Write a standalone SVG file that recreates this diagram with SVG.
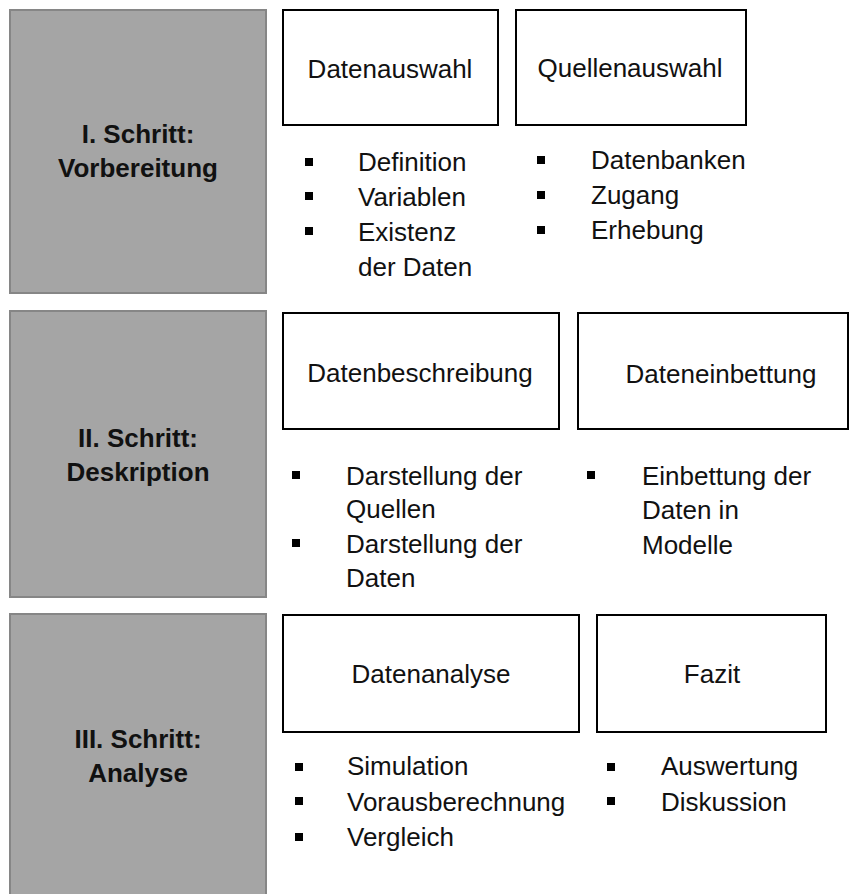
<svg xmlns="http://www.w3.org/2000/svg" width="851" height="894" viewBox="0 0 851 894">
<style>
.step{fill:#a5a5a5;stroke:#868686;stroke-width:2}
.box{fill:#ffffff;stroke:#000000;stroke-width:2}
.lbl{font-family:"Liberation Sans",Arial,sans-serif;font-size:26px;font-weight:bold;fill:#111111;text-anchor:middle}
.ttl{font-family:"Liberation Sans",Arial,sans-serif;font-size:26px;fill:#111111;text-anchor:middle}
.itm{font-family:"Liberation Sans",Arial,sans-serif;font-size:26px;fill:#111111}
.blt{fill:#000000}
</style>
<rect width="851" height="894" fill="#ffffff"/>
<g id="step1">
<rect class="step" x="10" y="10" width="256" height="283"/>
<text class="lbl" x="138" y="143">I. Schritt:</text>
<text class="lbl" x="138" y="177">Vorbereitung</text>
</g>
<g id="datenauswahl">
<rect class="box" x="283" y="10" width="215" height="115"/>
<text class="ttl" x="390" y="78">Datenauswahl</text>
<rect class="blt" x="305" y="158" width="8" height="8"/>
<rect class="blt" x="305" y="192" width="8" height="8"/>
<rect class="blt" x="305" y="227" width="8" height="8"/>
<text class="itm" x="358" y="171">Definition</text>
<text class="itm" x="358" y="206">Variablen</text>
<text class="itm" x="358" y="241">Existenz</text>
<text class="itm" x="358" y="276">der Daten</text>
</g>
<g id="quellenauswahl">
<rect class="box" x="516" y="10" width="230" height="115"/>
<text class="ttl" x="630" y="77">Quellenauswahl</text>
<rect class="blt" x="537" y="156" width="8" height="8"/>
<rect class="blt" x="537" y="191" width="8" height="8"/>
<rect class="blt" x="537" y="226" width="8" height="8"/>
<text class="itm" x="591" y="169">Datenbanken</text>
<text class="itm" x="591" y="204">Zugang</text>
<text class="itm" x="591" y="239">Erhebung</text>
</g>
<g id="step2">
<rect class="step" x="10" y="311" width="256" height="286"/>
<text class="lbl" x="138" y="447">II. Schritt:</text>
<text class="lbl" x="138" y="481">Deskription</text>
</g>
<g id="datenbeschreibung">
<rect class="box" x="283" y="313" width="276" height="116"/>
<text class="ttl" x="420" y="382">Datenbeschreibung</text>
<rect class="blt" x="292" y="471" width="8" height="8"/>
<rect class="blt" x="292" y="539" width="8" height="8"/>
<text class="itm" x="346" y="485">Darstellung der</text>
<text class="itm" x="346" y="518">Quellen</text>
<text class="itm" x="346" y="553">Darstellung der</text>
<text class="itm" x="346" y="587">Daten</text>
</g>
<g id="dateneinbettung">
<rect class="box" x="578" y="313" width="270" height="116"/>
<text class="ttl" x="721" y="383">Dateneinbettung</text>
<rect class="blt" x="587" y="471" width="8" height="8"/>
<text class="itm" x="642" y="485">Einbettung der</text>
<text class="itm" x="642" y="519">Daten in</text>
<text class="itm" x="642" y="554">Modelle</text>
</g>
<g id="step3">
<rect class="step" x="10" y="614" width="256" height="290"/>
<text class="lbl" x="138" y="748">III. Schritt:</text>
<text class="lbl" x="138" y="782">Analyse</text>
</g>
<g id="datenanalyse">
<rect class="box" x="283" y="615" width="296" height="117"/>
<text class="ttl" x="431" y="683">Datenanalyse</text>
<rect class="blt" x="295" y="763" width="8" height="8"/>
<rect class="blt" x="295" y="797" width="8" height="8"/>
<rect class="blt" x="295" y="833" width="8" height="8"/>
<text class="itm" x="347" y="775">Simulation</text>
<text class="itm" x="347" y="811">Vorausberechnung</text>
<text class="itm" x="347" y="846">Vergleich</text>
</g>
<g id="fazit">
<rect class="box" x="597" y="615" width="229" height="117"/>
<text class="ttl" x="712" y="683">Fazit</text>
<rect class="blt" x="607" y="763" width="8" height="8"/>
<rect class="blt" x="607" y="797" width="8" height="8"/>
<text class="itm" x="661" y="775">Auswertung</text>
<text class="itm" x="661" y="811">Diskussion</text>
</g>
<g id="connectors"/>
</svg>
